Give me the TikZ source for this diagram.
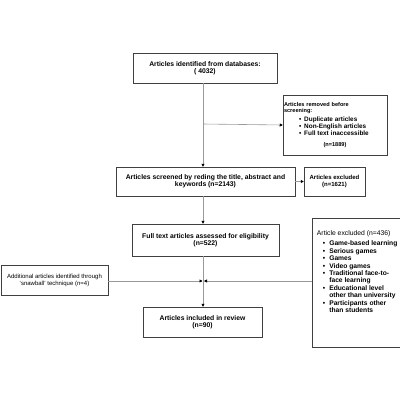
\documentclass[tikz,border=0pt]{standalone}
\usepackage{fontspec}
\setmainfont{Liberation Sans}
\usetikzlibrary{arrows.meta}
\begin{document}
\begin{tikzpicture}[x=1pt,y=-1pt,
  box/.style={draw=black!75, line width=0.5pt, inner sep=1pt, align=center,
    font=\fontsize{6.8}{7.4}\selectfont\bfseries},
  conn/.style={draw=black!40, line width=0.6pt},
  arr/.style={conn, -{Triangle[length=3pt,width=3pt,black]}},
  listtxt/.style={inner sep=0pt, align=left}]
\useasboundingbox[fill=white] (0,0) rectangle (400,400);

\node[box, minimum width=144pt, minimum height=30pt] (ident) at (205,68)
  {Articles identified from databases:\\( 4032)};
\node[box, minimum width=104pt, minimum height=60pt, text width=102pt, align=left,
  font=\fontsize{5.6}{6.4}\selectfont\bfseries] (removed) at (335,125)
  {Articles removed before\\screening:\\[2pt]
   {\fontsize{6.4}{7}\selectfont
   \hspace*{15pt}\textbullet\hspace{3pt}Duplicate articles\\
   \hspace*{15pt}\textbullet\hspace{3pt}Non-English articles\\
   \hspace*{15pt}\textbullet\hspace{3pt}Full text inaccessible\\[4pt]
   \makebox[\linewidth]{\fontsize{5.6}{6.4}\selectfont(n=1889)}}};
\node[box, minimum width=179pt, minimum height=29pt] (screened) at (205.5,181.5)
  {Articles screened by reding the title, abstract and\\keywords (n=2143)};
\node[box, minimum width=61pt, minimum height=29pt,
  font=\fontsize{6}{7}\selectfont\bfseries] (excl1) at (334.5,181.5)
  {Articles excluded\\(n=1621)};
\node[box, minimum width=147pt, minimum height=32pt] (full) at (205.5,240)
  {Full text articles assessed for eligibility\\(n=522)};
\node[box, minimum width=88pt, minimum height=129pt] (excl2) at (356,282.5) {};
\node[listtxt, anchor=north west, font=\fontsize{6.7}{7.4}\selectfont] (excl2txt)
  at ([xshift=5pt,yshift=-13pt]excl2.north west)
  {{\fontsize{6.8}{7.6}\selectfont Article excluded (n=436)}\\[2.5pt]
   \bfseries
   \begin{tabular}{@{\hspace{6pt}}l@{\hspace{4pt}}l@{}}
   \textbullet & Game-based learning\\
   \textbullet & Serious games\\
   \textbullet & Games\\
   \textbullet & Video games\\
   \textbullet & Traditional face-to-\\
               & face learning\\
   \textbullet & Educational level\\
               & other than university\\
   \textbullet & Participants other\\
               & than students
   \end{tabular}};
\node[box, minimum width=107pt, minimum height=30pt,
  font=\fontsize{6}{7}\selectfont] (snow) at (54.5,280)
  {Additional articles identified through\\`snawball' technique (n=4)};
\node[box, minimum width=119pt, minimum height=30pt] (incl) at (202.5,322)
  {Articles included in review\\(n=90)};

\coordinate (branch) at (203,124);
\coordinate (jl) at (202.5,281);
\coordinate (jr) at (204,281);

\draw[arr] (ident.south -| branch) -- (screened.north -| branch);
\draw[arr] (branch) -- (removed.west);
\draw[arr] (screened.east) -- (excl1.west);
\draw[arr] (screened.south -| branch) -- (full.north -| branch);
\draw[arr] (full.south -| branch) -- (incl.north -| branch);
\draw[arr] (snow.east |- jl) -- (jl);
\draw[arr] (excl2.west |- jr) -- (jr);
\end{tikzpicture}
\end{document}
